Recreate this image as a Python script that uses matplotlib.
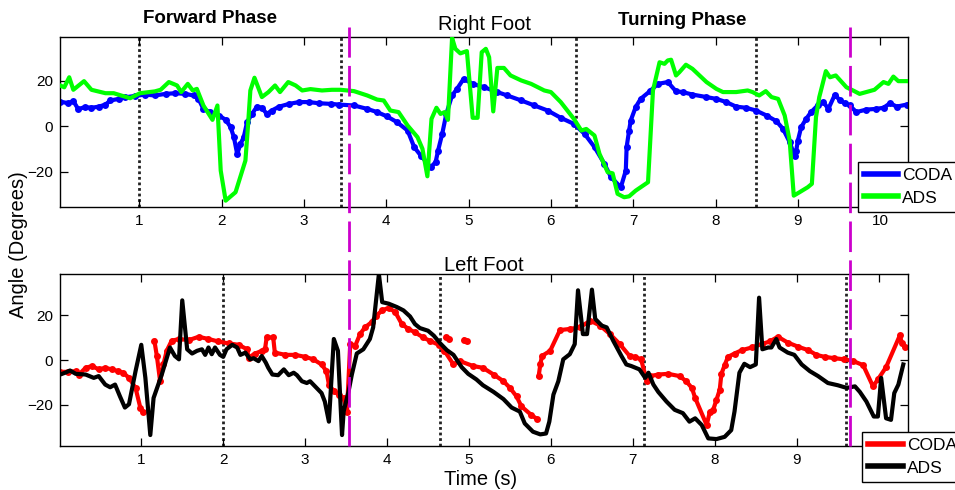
import numpy as np
import matplotlib
matplotlib.use("Agg")
import matplotlib.pyplot as plt
from matplotlib.lines import Line2D
from matplotlib import transforms

plt.rcParams['font.family'] = ['Liberation Sans', 'DejaVu Sans']

# ---- right foot (top panel) ----
ads_r_t = [0.04, 0.09, 0.15, 0.20, 0.33, 0.42, 0.59, 0.69, 0.89, 1.01, 1.19, 1.26, 1.36, 1.46, 1.51,
           1.59, 1.65, 1.70, 1.78, 1.89, 1.95, 1.99, 2.05, 2.17, 2.29, 2.32, 2.35, 2.40, 2.49, 2.57,
           2.65, 2.71, 2.81, 2.90, 2.98, 3.08, 3.22, 3.34, 3.445, 3.61, 3.77, 3.89, 3.97, 4.05, 4.15,
           4.26, 4.38, 4.44, 4.50, 4.55, 4.61, 4.66, 4.71, 4.75, 4.80, 4.84, 4.90, 4.98, 5.05, 5.11,
           5.16, 5.21, 5.25, 5.30, 5.35, 5.43, 5.51, 5.64, 5.76, 5.92, 6.00, 6.12, 6.28, 6.37, 6.43,
           6.53, 6.59, 6.69, 6.75, 6.81, 6.89, 6.95, 7.03, 7.18, 7.24, 7.32, 7.38, 7.42, 7.46, 7.52,
           7.56, 7.64, 7.72, 7.89, 8.01, 8.09, 8.25, 8.39, 8.45, 8.53, 8.61, 8.68, 8.76, 8.84, 8.90,
           8.95, 9.02, 9.12, 9.17, 9.22, 9.26, 9.34, 9.39, 9.46, 9.59, 9.67, 9.75, 9.83, 9.93, 10.04,
           10.10, 10.16, 10.22, 10.32]
ads_r_y = [17.9, 17.1, 21.5, 16.0, 19.8, 16.0, 14.5, 14.5, 12.3, 14.5, 15.3, 16.0, 19.4, 17.9, 15.0,
           18.6, 15.7, 16.4, 9.1, 2.8, 9.1, -19.5, -32.7, -29.0, -15.1, -0.4, 15.7, 21.3, 12.8, 15.0,
           17.9, 15.0, 19.4, 17.9, 15.7, 16.3, 15.7, 16.0, 16.0, 15.4, 13.5, 11.7, 11.3, 6.9, 6.2,
           0.3, -4.8, -9.9, -22.0, 3.2, 8.1, 5.4, 6.2, 2.8, 38.8, 34.0, 32.0, 33.0, 3.7, 3.7,
           32.5, 34.0, 30.3, 6.5, 25.6, 25.6, 22.3, 20.1, 18.6, 15.7, 15.0, 10.6, 3.2, -1.9, -1.2,
           -4.1, -12.1, -20.2, -20.7, -29.7, -31.2, -30.8, -28.3, -24.6, 15.7, 28.1, 27.4, 28.9, 29.2, 22.3,
           23.7, 27.0, 25.2, 19.4, 16.4, 15.0, 15.0, 15.7, 15.0, 13.5, 15.4, 12.8, 12.0, 4.7, -6.3,
           -30.5, -29.0, -26.8, -25.3, 4.0, 12.8, 24.2, 21.5, 22.3, 17.1, 15.7, 14.2, 15.0, 16.0, 19.4,
           18.6, 21.8, 19.8, 19.8]

coda_r_t = [0.04, 0.14, 0.20, 0.26, 0.34, 0.42, 0.51, 0.59, 0.65, 0.75, 0.83, 0.95, 1.07, 1.19, 1.32,
            1.44, 1.56, 1.66, 1.72, 1.78, 1.86, 1.97, 2.05, 2.11, 2.15, 2.19, 2.23, 2.27, 2.31, 2.37,
            2.43, 2.49, 2.55, 2.61, 2.70, 2.82, 2.94, 3.06, 3.18, 3.33, 3.43, 3.61, 3.77, 3.89, 4.01,
            4.13, 4.26, 4.34, 4.42, 4.54, 4.60, 4.63, 4.68, 4.73, 4.80, 4.86, 4.94, 5.05, 5.19, 5.35,
            5.47, 5.64, 5.80, 5.96, 6.12, 6.28, 6.41, 6.53, 6.65, 6.73, 6.85, 6.91, 6.92, 6.95, 6.97,
            7.03, 7.09, 7.20, 7.30, 7.42, 7.52, 7.60, 7.72, 7.89, 8.01, 8.13, 8.25, 8.37, 8.49, 8.62,
            8.74, 8.82, 8.90, 8.96, 8.98, 9.00, 9.04, 9.10, 9.16, 9.24, 9.31, 9.37, 9.45, 9.51, 9.57,
            9.63, 9.71, 9.83, 9.95, 10.04, 10.12, 10.20, 10.32]
coda_r_y = [10.8, 10.1, 11.0, 7.5, 8.4, 8.1, 8.6, 9.5, 11.3, 12.0, 12.7, 13.3, 13.9, 13.5, 14.2,
            14.5, 14.2, 13.5, 12.0, 7.6, 6.2, 4.7, 2.8, -0.4, -4.8, -12.2, -7.8, -4.8, 1.8, 5.4,
            8.6, 8.1, 5.4, 6.9, 8.6, 9.8, 10.6, 10.6, 10.1, 9.8, 9.5, 9.1, 7.6, 6.2, 4.3,
            1.8, -1.9, -9.2, -12.9, -18.0, -15.8, -10.7, -3.4, 5.4, 13.5, 16.4, 20.8, 18.6, 17.1, 15.0,
            13.5, 11.3, 9.1, 6.9, 3.7, 1.0, -3.4, -9.2, -16.5, -22.4, -26.8, -19.5, -9.2, -1.9, 2.5,
            8.4, 12.0, 15.3, 18.6, 19.4, 15.3, 15.0, 13.9, 12.8, 12.0, 10.6, 8.6, 8.1, 6.9, 4.7,
            2.2, -1.2, -7.0, -12.9, -10.7, -6.3, -0.4, 3.2, 6.2, 9.1, 10.6, 7.6, 13.9, 11.3, 10.1,
            9.1, 6.2, 7.3, 7.6, 8.1, 10.1, 8.6, 9.5]

# ---- left foot (bottom panel) ----
ads_l_t = [0.01, 0.07, 0.13, 0.20, 0.32, 0.42, 0.48, 0.56, 0.62, 0.68, 0.74, 0.80, 0.85, 0.93, 1.00,
           1.05, 1.11, 1.15, 1.25, 1.35, 1.41, 1.46, 1.50, 1.56, 1.62, 1.68, 1.74, 1.78, 1.82, 1.86,
           1.90, 1.96, 2.00, 2.04, 2.11, 2.17, 2.21, 2.27, 2.33, 2.37, 2.43, 2.47, 2.52, 2.55, 2.60,
           2.67, 2.74, 2.80, 2.86, 2.90, 2.96, 3.02, 3.06, 3.12, 3.20, 3.24, 3.29, 3.35, 3.40, 3.45,
           3.47, 3.53, 3.57, 3.63, 3.71, 3.79, 3.83, 3.90, 3.94, 4.02, 4.12, 4.20, 4.28, 4.34, 4.40,
           4.50, 4.57, 4.65, 4.73, 4.81, 4.91, 4.99, 5.09, 5.17, 5.30, 5.42, 5.52, 5.62, 5.68, 5.78,
           5.87, 5.94, 5.98, 6.03, 6.09, 6.15, 6.23, 6.29, 6.33, 6.39, 6.44, 6.50, 6.54, 6.62, 6.68,
           6.76, 6.86, 6.92, 6.98, 7.08, 7.15, 7.19, 7.25, 7.31, 7.41, 7.51, 7.61, 7.69, 7.76, 7.84,
           7.92, 8.02, 8.12, 8.20, 8.24, 8.30, 8.36, 8.43, 8.50, 8.54, 8.58, 8.65, 8.69, 8.75, 8.79,
           8.89, 8.97, 9.06, 9.16, 9.26, 9.38, 9.50, 9.61, 9.71, 9.77, 9.85, 9.94, 9.99, 10.03, 10.09,
           10.15, 10.19, 10.24, 10.30]
ads_l_y = [-6.5, -5.7, -4.7, -6.2, -6.5, -8.0, -7.2, -11.0, -12.2, -11.0, -16.3, -21.3, -19.8, -5.0, 6.8,
           -8.0, -33.6, -17.0, -6.5, 5.6, 1.8, 0.3, 26.7, 4.8, 2.9, 4.1, 4.8, 2.3, 5.6, 2.6,
           5.6, 2.3, 1.4, 4.8, 6.8, 5.6, 2.3, 3.3, 0.3, 0.8, -0.5, 1.8, -1.2, -3.5, -6.5,
           -6.8, -4.2, -6.8, -5.7, -6.8, -9.5, -10.3, -9.5, -11.8, -14.8, -18.6, -27.6, 9.4, 4.1, -33.6,
           -23.0, -14.0, -6.5, 2.9, 4.8, 9.4, 14.6, 38.5, 25.9, 25.2, 23.7, 22.2, 19.5, 16.1, 14.3,
           13.1, 10.9, 7.4, 4.4, 2.3, -3.2, -6.2, -8.7, -11.3, -14.3, -17.5, -21.3, -23.1, -28.4, -32.1,
           -33.3, -32.9, -27.6, -15.5, -9.5, 0.3, 2.6, 7.1, 31.2, 11.6, 11.6, 31.5, 18.4, 15.4, 14.6,
           8.6, 1.8, -2.0, -2.7, -4.2, -8.0, -5.7, -11.0, -14.3, -18.6, -22.3, -23.8, -27.6, -26.1, -29.1,
           -35.1, -35.4, -34.4, -31.4, -23.1, -5.7, -1.7, -3.2, -2.0, 27.9, 4.8, 5.6, 5.6, 9.4, 5.6,
           3.3, 2.3, -2.0, -5.0, -7.2, -10.3, -11.3, -12.5, -11.8, -14.3, -18.6, -25.3, -25.3, -8.0, -26.1,
           -26.8, -14.8, -11.0, -2.0]

# NaN marks a gap in the CODA record; the last two pieces are isolated clumps
coda_l_t = [0.01, 0.11, 0.20, 0.24, 0.32, 0.40, 0.48, 0.56, 0.64, 0.72, 0.78, 0.85, 0.93, 0.99, 1.02,
            1.09, 1.16, 1.19, 1.23, 1.27, 1.31, 1.37, 1.46, 1.58, 1.70, 1.82, 1.94, 2.07, 2.19, 2.29,
            2.31, 2.39, 2.47, 2.51, 2.53, 2.61, 2.63, 2.76, 2.88, 3.00, 3.10, 3.20, 3.26, 3.29, 3.35,
            3.41, 3.47, 3.51, 3.55, 3.61, 3.67, 3.73, 3.81, 3.87, 3.94, 4.02, 4.10, 4.18, 4.26, 4.34,
            4.44, 4.52, 4.63, 4.70, 4.81, 4.89, 5.05, 5.17, 5.30, 5.42, 5.50, 5.58, 5.64,
            5.76, 5.83, 5.84, 5.85, 5.87, 5.89, 5.99, 6.11, 6.23, 6.35, 6.48, 6.60, 6.72, 6.84, 6.96,
            7.02, 7.10, 7.17, 7.21, 7.31, 7.43, 7.57, 7.65, 7.72, 7.76, 7.90, 7.94, 7.98, 8.02, 8.06,
            8.08, 8.12, 8.16, 8.24, 8.33, 8.45, 8.57, 8.67, 8.77, 8.89, 9.02, 9.14, 9.24, 9.34, 9.46,
            9.58, 9.69, 9.81, 9.93, 9.99, 10.09, 10.26, 10.28, 10.32,
            10.33, 4.72, 4.75, 4.75, 4.94, 4.97]
coda_l_y = [-5.3, -5.3, -5.0, -6.5, -3.5, -2.7, -4.2, -3.5, -4.2, -5.0, -5.7, -8.0, -12.5, -21.6, -23.1,
            np.nan, 8.6, 1.8, -9.5, -2.0, 4.1, 8.6, 9.4, 8.9, 10.4, 9.4, 8.3, 7.4, 6.8, 4.8,
            1.1, 2.9, 4.1, 4.8, 10.1, 10.1, 3.3, 2.3, 2.3, 1.4, 0.3, -2.0, -5.0, -11.0, -14.0,
            -15.5, -17.0, -23.3, 7.1, 6.3, 11.6, 14.6, 16.9, 19.9, 22.2, 23.4, 21.4, 16.1, 13.9, 12.4,
            10.1, 8.6, 6.8, 4.1, -2.0, -0.5, -2.7, -3.5, -6.5, -9.5, -12.5, -16.3, -20.8,
            -24.6, -26.4, np.nan, -7.2, -2.0, 1.8, 4.1, 13.4, 13.9, 14.6, 17.6, 15.4, 11.6, 7.1, 1.8,
            1.4, 0.3, -9.5, -7.2, -6.5, -6.2, -7.2, -9.5, -12.5, -17.0, -29.1, -23.1, -22.3, -17.8, -13.3,
            -6.2, -2.3, 1.4, 2.9, 4.4, 5.6, 7.1, 8.3, 10.4, 7.8, 5.9, 4.4, 2.3, 1.4, 0.8,
            0.3, -0.5, -2.3, -11.8, -8.7, -3.2, 11.2, 7.8, 5.6,
            np.nan, 10.1, 9.5, np.nan, 8.9, 8.3]

# phase markers
dotted_top = [1.0, 3.45, 6.30, 8.49]
dotted_bottom = [2.0, 4.65, 7.13, 9.60]
phase_split = [3.54, 9.65]

fig = plt.figure(figsize=(9.55, 4.9), dpi=100)
ax1 = fig.add_axes([0.063, 0.5775, 0.888, 0.3475])
ax2 = fig.add_axes([0.063, 0.0898, 0.888, 0.3510])


def style_axes(ax, xlim, ylim):
    ax.set_xlim(*xlim)
    ax.set_ylim(*ylim)
    ax.set_xticks(range(1, 11))
    ax.set_yticks([-20, 0, 20])
    ax.tick_params(direction='in', length=6, width=0.9, top=True, right=True,
                   labelsize=11, pad=5)
    for s in ax.spines.values():
        s.set_linewidth(1.0)


style_axes(ax1, (0.04, 10.34), (-35.5, 39.3))
style_axes(ax2, (0.01, 10.36), (-38.5, 38.5))

for x in dotted_top:
    ax1.axvline(x, color='#222222', lw=2.0, linestyle=(0, (1, 1)), zorder=1)
for x in dotted_bottom:
    ax2.axvline(x, color='#222222', lw=2.0, linestyle=(0, (1, 1)), zorder=1)

ax1.plot(coda_r_t, coda_r_y, color='#0000ff', lw=3, marker='o', ms=5, mec='none', zorder=2)
ax1.plot(ads_r_t, ads_r_y, color='#00ff00', lw=3, zorder=3)
ax2.plot(coda_l_t, coda_l_y, color='#ff0000', lw=3, marker='o', ms=5, mec='none', zorder=2)
ax2.plot(ads_l_t, ads_l_y, color='black', lw=3, zorder=3)

ax1.set_title('Right Foot', fontsize=14.5, pad=5)
ax2.set_title('Left Foot', fontsize=14.5, pad=2)

fig.text(0.22, 0.963, 'Forward Phase', fontsize=13.5, fontweight='bold', ha='center', va='center')
fig.text(0.714, 0.959, 'Turning Phase', fontsize=13.5, fontweight='bold', ha='center', va='center')
fig.text(0.019, 0.5, 'Angle (Degrees)', fontsize=14.5, rotation=90, ha='center', va='center')
fig.text(0.503, 0.022, 'Time (s)', fontsize=14.5, ha='center', va='center')

# dashed magenta lines spanning both panels
trans = transforms.blended_transform_factory(ax2.transData, fig.transFigure)
for x in phase_split:
    fig.add_artist(Line2D([x, x], [0.0898, 0.945], transform=trans, color='#cc00cc',
                          lw=2.0, dashes=(11, 3)))

leg_kw = dict(loc='upper left', bbox_transform=fig.transFigure, fontsize=12.5, frameon=True,
              fancybox=False, borderaxespad=0, handlelength=2.0, handletextpad=0.2,
              labelspacing=0.4, borderpad=0.35)
h1 = [Line2D([], [], color='#0000ff', lw=4), Line2D([], [], color='#00ff00', lw=4)]
lg1 = ax1.legend(h1, ['CODA', 'ADS'], bbox_to_anchor=(0.898, 0.669), **leg_kw)
h2 = [Line2D([], [], color='#ff0000', lw=4), Line2D([], [], color='black', lw=4)]
lg2 = ax2.legend(h2, ['CODA', 'ADS'], bbox_to_anchor=(0.903, 0.118), **leg_kw)
for lg in (lg1, lg2):
    lg.get_frame().set_edgecolor('black')
    lg.get_frame().set_linewidth(1.0)
    lg.get_frame().set_alpha(1)

fig.savefig('out.png', dpi=100)
